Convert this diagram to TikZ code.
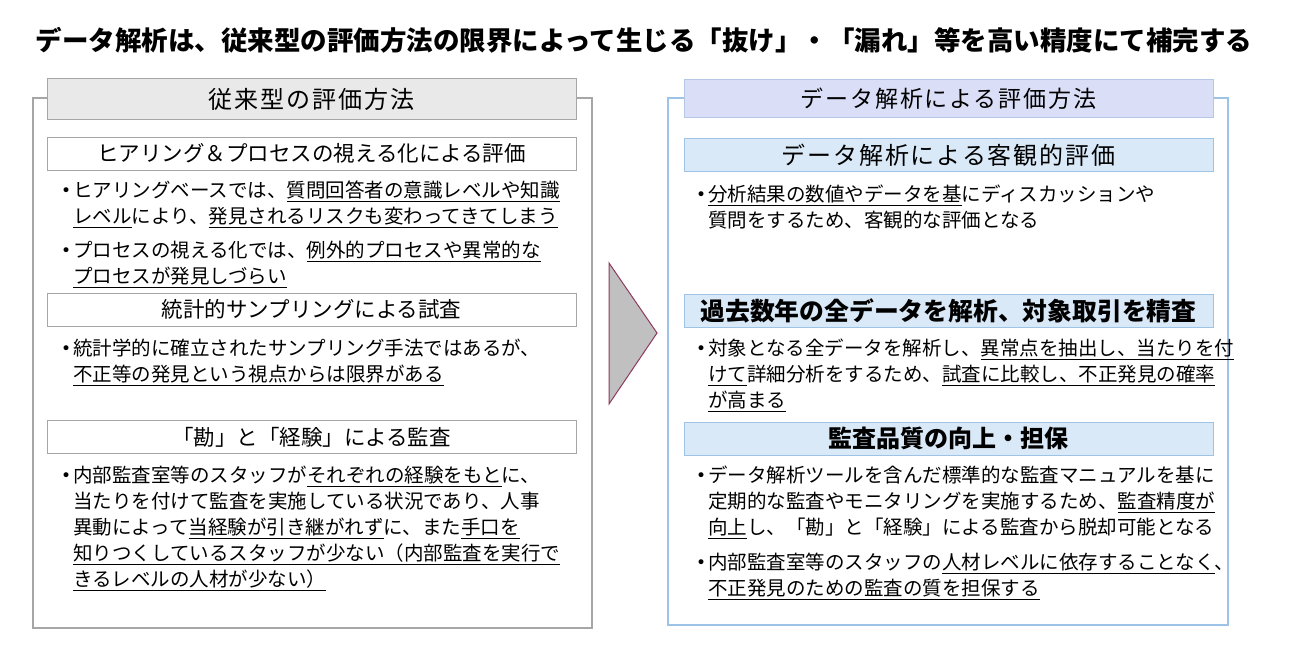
\documentclass[tikz,border=0pt]{standalone}
\usepackage{fontspec}
\setmainfont{Noto Sans CJK JP}
\newfontfamily\jpsp[LetterSpace=8]{Noto Sans CJK JP}
\newfontfamily\dejavu{DejaVu Sans}
\definecolor{grayline}{HTML}{A6A6A6}
\definecolor{headgray}{HTML}{E9E9E9}
\definecolor{blueline}{HTML}{9DC3E6}
\definecolor{headblue}{HTML}{DADFF7}
\definecolor{headblueline}{HTML}{B4C7E7}
\definecolor{subblue}{HTML}{DAE9F8}
\definecolor{arrgray}{HTML}{C0C0C0}
\definecolor{arrred}{HTML}{8E3A5E}
\newsavebox\ulbox
\newcommand\ulx[1]{\sbox\ulbox{#1}\rlap{\rule[-4.8pt]{\wd\ulbox}{1.6pt}}\usebox\ulbox}
\newcommand\bul{\makebox[12pt][l]{\raisebox{1.6pt}{\dejavu\fontsize{17}{17}\selectfont •}}}
\newcommand\ind{\hspace*{12pt}}
\newcommand\fst{\rule{0pt}{18pt}}
\tikzset{
  frameL/.style={draw=grayline, line width=1.2pt, fill=white},
  frameR/.style={draw=blueline, line width=1.2pt, fill=white},
  headL/.style={draw=grayline, fill=headgray, line width=1pt, minimum width=529pt, minimum height=41pt, inner sep=0pt, font=\jpsp\fontsize{24}{24}\selectfont},
  headR/.style={draw=headblueline, fill=headblue, line width=1pt, minimum width=529pt, minimum height=38pt, inner sep=0pt, font=\jpsp\fontsize{23}{23}\selectfont},
  subL/.style={draw=grayline, fill=white, line width=1pt, minimum width=529pt, minimum height=33pt, inner sep=0pt, font=\fontsize{21.5}{21.5}\selectfont},
  subR/.style={draw=blueline, fill=subblue, line width=1pt, minimum width=529pt, minimum height=33pt, inner sep=0pt, font=\bfseries\fontsize{24}{24}\selectfont},
  subRreg/.style={subR, font=\jpsp\fontsize{24}{24}\selectfont},
  para/.style={anchor=north west, inner sep=0pt, align=left, font=\fontsize{19.5}{26}\selectfont},
  tri/.style={fill=arrgray, draw=arrred, line width=1pt, line join=miter},
  titlestyle/.style={inner sep=0pt, font=\bfseries\fontsize{26.5}{26.5}\selectfont}
}
\begin{document}
\begin{tikzpicture}[x=1pt,y=-1pt]
\useasboundingbox (0,0) rectangle (1300,650);
\fill[white] (0,0) rectangle (1300,650);
% title
\node[titlestyle] (title) at (644,40) {データ解析は、従来型の評価方法の限界によって生じる「抜け」・「漏れ」等を高い精度にて補完する};
% left frame
\node[frameL, minimum width=559pt, minimum height=530pt, inner sep=0pt] (lframe) at (312.5,363) {};
\node[headL] (lhead) at (311.5,99.5) {従来型の評価方法};
\node[subL] (ls1) at (311.5,153.5) {ヒアリング＆プロセスの視える化による評価};
\node[subL] (ls2) at (311.5,309.5) {統計的サンプリングによる試査};
\node[subL] (ls3) at (311.5,437) {「勘」と「経験」による監査};
\node[para] (lp1) at (61,179.4) {\fst\bul ヒアリングベースでは、\ulx{質問回答者の意識レベルや知識}\\ \ind\ulx{レベル}により、\ulx{発見されるリスクも変わってきてしまう}};
\node[para] (lp2) at (61,239.4) {\fst\bul プロセスの視える化では、\ulx{例外的プロセスや異常的な}\\ \ind\ulx{プロセスが発見しづらい}};
\node[para] (lp3) at (61,337.4) {\fst\bul 統計学的に確立されたサンプリング手法ではあるが、\\ \ind\ulx{不正等の発見という視点からは限界がある}};
\node[para] (lp4) at (61,464.4) {\fst\bul 内部監査室等のスタッフが\ulx{それぞれの経験をもと}に、\\ \ind 当たりを付けて監査を実施している状況であり、人事\\ \ind 異動によって\ulx{当経験が引き継がれず}に、また\ulx{手口を}\\ \ind\ulx{知りつくしているスタッフが少ない（内部監査を実行で}\\ \ind\ulx{きるレベルの人材が少ない）}};
% arrow
\draw[tri] (609,263) -- (657,333) -- (609,404) -- cycle;
% right frame
\node[frameR, minimum width=560pt, minimum height=527pt, inner sep=0pt] (rframe) at (948,361.5) {};
\node[headR] (rhead) at (948.5,99) {データ解析による評価方法};
\node[subRreg] (rs1) at (948.5,155) {データ解析による客観的評価};
\node[subR, font=\bfseries\fontsize{24.8}{24.8}\selectfont] (rs2) at (948.5,311) {過去数年の全データを解析、対象取引を精査};
\node[subR] (rs3) at (948.5,438.5) {監査品質の向上・担保};
\node[para] (rp1) at (696,183.4) {\fst\bul\ulx{分析結果の数値やデータを基}にディスカッションや\\ \ind 質問をするため、客観的な評価となる};
\node[para] (rp2) at (696,337.4) {\fst\bul 対象となる全データを解析し、\ulx{異常点を抽出し、当たりを付}\\ \ind\ulx{けて}詳細分析をするため、\ulx{試査に比較し、不正発見の確率}\\ \ind\ulx{が高まる}};
\node[para] (rp3) at (696,464.4) {\fst\bul データ解析ツールを含んだ標準的な監査マニュアルを基に\\ \ind 定期的な監査やモニタリングを実施するため、\ulx{監査精度が}\\ \ind\ulx{向上}し、「勘」と「経験」による監査から脱却可能となる};
\node[para] (rp4) at (696,551.4) {\fst\bul 内部監査室等のスタッフの\ulx{人材レベルに依存することなく}、\\ \ind\ulx{不正発見のための監査の質を担保する}};
\end{tikzpicture}
\end{document}
